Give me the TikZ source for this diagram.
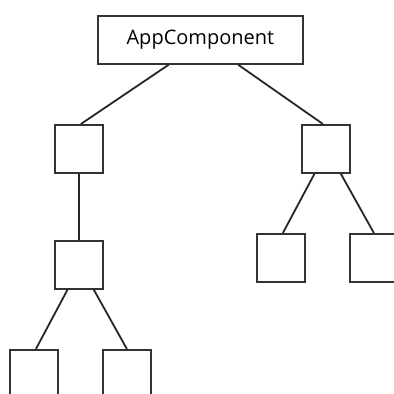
\documentclass[tikz,border=0pt]{standalone}
\usepackage{fontspec}
\setmainfont{Open Sans}
\usetikzlibrary{calc}
\begin{document}
\begin{tikzpicture}[x=1pt,y=-1pt,
  box/.style={draw=black!80,line width=1.8pt,minimum width=48pt,minimum height=48pt,inner sep=0pt,anchor=north west},
  link/.style={draw=black!85,line width=1.8pt}]
\useasboundingbox (0,0) rectangle (394,394);
\clip (0,0) rectangle (394,394);
\node[box,minimum width=205pt,minimum height=48pt,font=\fontsize{20}{24}\selectfont] (app) at (97,15) {AppComponent};
\node[box] (l1) at (54,124) {};
\node[box] (l2) at (54,240) {};
\node[box] (l3) at (9,349) {};
\node[box] (l4) at (102,349) {};
\node[box] (r1) at (301,124) {};
\node[box] (r2) at (256,233) {};
\node[box] (r3) at (349,233) {};
\draw[link] ($(app.south west)!0.346!(app.south east)$) -- ($(l1.north west)!0.54!(l1.north east)$);
\draw[link] ($(app.south west)!0.683!(app.south east)$) -- ($(r1.north west)!0.44!(r1.north east)$);
\draw[link] (l1.south) -- (l2.north);
\draw[link] ($(l2.south west)!0.27!(l2.south east)$) -- ($(l3.north west)!0.54!(l3.north east)$);
\draw[link] ($(l2.south west)!0.8!(l2.south east)$) -- ($(l4.north west)!0.5!(l4.north east)$);
\draw[link] ($(r1.south west)!0.27!(r1.south east)$) -- ($(r2.north west)!0.54!(r2.north east)$);
\draw[link] ($(r1.south west)!0.8!(r1.south east)$) -- ($(r3.north west)!0.5!(r3.north east)$);
\end{tikzpicture}
\end{document}
